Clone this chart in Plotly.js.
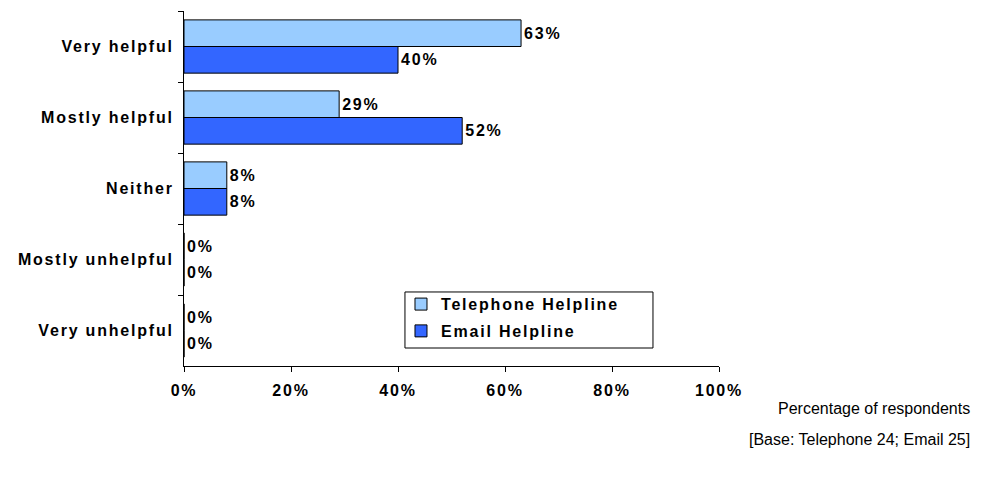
<!DOCTYPE html>
<html><head><meta charset="utf-8">
<script src="https://cdn.plot.ly/plotly-3.0.1.min.js"></script>
<style>
body{margin:0;background:#fff}
text[style*="bold"]{letter-spacing:1.8px}
</style>
</head><body>
<div id="chart" style="width:982px;height:486px"></div>
<script>
const categories = ["Very helpful", "Mostly helpful", "Neither", "Mostly unhelpful", "Very unhelpful"];
const telephone = [63, 29, 8, 0, 0];
const email = [40, 52, 8, 0, 0];
const xTickVals = [0, 20, 40, 60, 80, 100];
const xTickText = ["0%", "20%", "40%", "60%", "80%", "100%"];
const seriesNames = ["Telephone Helpline", "Email Helpline"];
const footnotes = ["Percentage of respondents", "[Base: Telephone 24; Email 25]"];

const font = "Arial, 'Liberation Sans', sans-serif";
function trace(vals, name, color, grp) {
  return {
    type: "bar", orientation: "h", y: categories, x: vals, name: name, legendgroup: grp,
    marker: {color: color, line: {color: "#000", width: 1}},
    text: vals.map(v => v + "%"), textposition: "outside", cliponaxis: false,
    textfont: {family: font, size: 16, color: "#000", weight: "bold"},
    hoverinfo: "none"
  };
}
const data = [trace(telephone, seriesNames[0], "#99CCFF", "a"), trace(email, seriesNames[1], "#3366FF", "b")];
const layout = {
  width: 982, height: 486,
  margin: {l: 184, r: 263, t: 11, b: 120},
  paper_bgcolor: "#fff", plot_bgcolor: "#fff",
  barmode: "group", bargap: 0.25, bargroupgap: 0,
  font: {family: font, size: 12, color: "#000"},
  xaxis: {range: [0, 100], tickvals: xTickVals, ticktext: xTickText, showgrid: false, zeroline: false,
    showline: true, linecolor: "#000", linewidth: 1, ticks: "outside", ticklen: 5, tickcolor: "#000",
    tickfont: {family: font, size: 16, weight: "bold"}, ticklabelstandoff: 5},
  yaxis: {autorange: "reversed", showgrid: false, zeroline: false, showline: true, linecolor: "#000", linewidth: 1,
    ticks: "outside", ticklen: 5, tickcolor: "#000", tickson: "boundaries",
    tickfont: {family: font, size: 16, weight: "bold"}, ticklabelstandoff: 6},
  showlegend: true,
  legend: {x: 0.4056, y: 0.222, xanchor: "left", yanchor: "top", borderwidth: 0,
    bgcolor: "rgba(0,0,0,0)", font: {family: font, size: 16, weight: "bold"}, traceorder: "grouped",
    itemwidth: 30, tracegroupgap: 3},
  shapes: [
    {type: "rect", xref: "paper", yref: "paper", x0: 0.413, x1: 0.8766, y0: 0.0507, y1: 0.2085,
     line: {color: "#000", width: 1}, fillcolor: "#fff", layer: "above"}
  ],
  annotations: [
    {xref: "paper", yref: "paper", x: 1.472, y: -0.12, xanchor: "right", yanchor: "middle", showarrow: false,
     text: footnotes[0], font: {family: font, size: 16}},
    {xref: "paper", yref: "paper", x: 1.472, y: -0.207, xanchor: "right", yanchor: "middle", showarrow: false,
     text: footnotes[1], font: {family: font, size: 16}}
  ]
};
Plotly.newPlot("chart", data, layout, {displayModeBar: false, staticPlot: true});
</script>
</body></html>
